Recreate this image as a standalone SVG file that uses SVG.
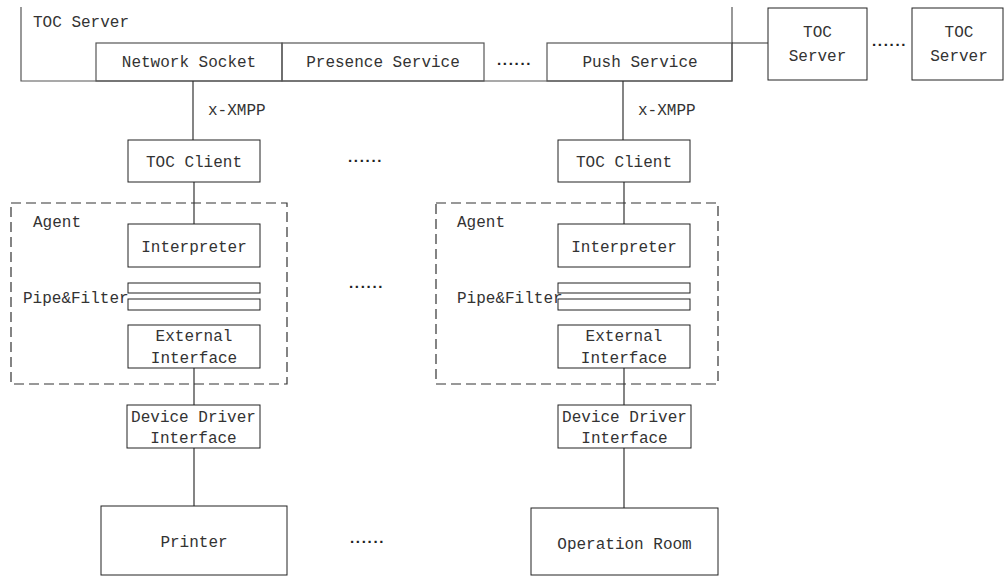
<svg xmlns="http://www.w3.org/2000/svg" width="1005" height="576" viewBox="0 0 1005 576">
<style>
.b{fill:#fff;stroke:#222;stroke-width:1}
.g{fill:none;stroke:#555;stroke-width:1.2}
.d{fill:none;stroke:#333;stroke-width:1.2;stroke-dasharray:10 5}
.t{font-family:"Liberation Mono",monospace;font-size:16px;fill:#333}
.c{text-anchor:middle}
.dots{font-family:"Liberation Sans",sans-serif;font-size:15px;letter-spacing:1.7px;fill:#222;font-weight:bold}
.l{stroke:#333;stroke-width:1.2;fill:none}
</style>
<rect width="1005" height="576" fill="#fff"/>
<g id="toc-server">
<path class="g" d="M21,7 V81 H732 V7"/>
<text class="t" x="33" y="27">TOC Server</text>
</g>
<g id="network-socket">
<rect class="g" x="96" y="43" width="186" height="38"/>
<text class="t c" x="189" y="67">Network Socket</text>
</g>
<g id="presence-service">
<rect class="g" x="282" y="43" width="202" height="38"/>
<text class="t c" x="383" y="67">Presence Service</text>
</g>
<text class="dots" x="497" y="65">......</text>
<g id="push-service">
<rect class="g" x="547" y="43" width="185" height="38"/>
<text class="t c" x="640" y="67">Push Service</text>
</g>
<g id="toc-server-2">
<rect class="b" x="768" y="8" width="99" height="72"/>
<text class="t c" x="817.5" y="37">TOC</text>
<text class="t c" x="817.5" y="61">Server</text>
</g>
<text class="dots" x="872" y="46">......</text>
<g id="toc-server-3">
<rect class="b" x="912" y="8" width="91" height="72"/>
<text class="t c" x="959" y="37">TOC</text>
<text class="t c" x="959" y="61">Server</text>
</g>
<g id="connectors">
<line class="l" x1="732" y1="43" x2="768" y2="43"/>
<line class="l" x1="193" y1="81" x2="193" y2="140"/>
<line class="l" x1="194" y1="182" x2="194" y2="224"/>
<line class="l" x1="194" y1="368" x2="194" y2="405"/>
<line class="l" x1="194" y1="448" x2="194" y2="506"/>
<line class="l" x1="623" y1="81" x2="623" y2="140"/>
<line class="l" x1="624" y1="182" x2="624" y2="224"/>
<line class="l" x1="624" y1="368" x2="624" y2="405"/>
<line class="l" x1="624" y1="448" x2="624" y2="508"/>
</g>
<text class="t" x="208" y="115">x-XMPP</text>
<text class="t" x="638" y="115">x-XMPP</text>
<text class="dots" x="348" y="162">......</text>
<text class="dots" x="349" y="288">......</text>
<text class="dots" x="350" y="543">......</text>
<g id="agent-1">
<rect class="d" x="11" y="203" width="276" height="181"/>
<text class="t" x="33" y="227">Agent</text>
<text class="t" x="23" y="303">Pipe&amp;Filter</text>
</g>
<g id="toc-client-1">
<rect class="b" x="128" y="140" width="132" height="42"/>
<text class="t c" x="194" y="167">TOC Client</text>
</g>
<g id="interpreter-1">
<rect class="b" x="128" y="224" width="132" height="43"/>
<text class="t c" x="194" y="252">Interpreter</text>
</g>
<g id="pipe-1">
<rect class="b" x="128" y="283" width="132" height="10"/>
<rect class="b" x="128" y="299" width="132" height="11"/>
</g>
<g id="external-1">
<rect class="b" x="128" y="325" width="132" height="43"/>
<text class="t c" x="194" y="341">External</text>
<text class="t c" x="194" y="363">Interface</text>
</g>
<g id="driver-1">
<rect class="b" x="127" y="405" width="133" height="43"/>
<text class="t c" x="193.5" y="422">Device Driver</text>
<text class="t c" x="193.5" y="443">Interface</text>
</g>
<g id="printer">
<rect class="b" x="101" y="506" width="186" height="69"/>
<text class="t c" x="194" y="547">Printer</text>
</g>
<g id="agent-2">
<rect class="d" x="436" y="203" width="282" height="181"/>
<text class="t" x="457" y="227">Agent</text>
<text class="t" x="457" y="303">Pipe&amp;Filter</text>
</g>
<g id="toc-client-2">
<rect class="b" x="558" y="140" width="132" height="42"/>
<text class="t c" x="624" y="167">TOC Client</text>
</g>
<g id="interpreter-2">
<rect class="b" x="558" y="224" width="132" height="43"/>
<text class="t c" x="624" y="252">Interpreter</text>
</g>
<g id="pipe-2">
<rect class="b" x="558" y="283" width="132" height="10" fill-opacity="0"/>
<rect class="b" x="558" y="299" width="132" height="11" fill-opacity="0"/>
</g>
<g id="external-2">
<rect class="b" x="558" y="325" width="132" height="43"/>
<text class="t c" x="624" y="341">External</text>
<text class="t c" x="624" y="363">Interface</text>
</g>
<g id="driver-2">
<rect class="b" x="558" y="405" width="133" height="43"/>
<text class="t c" x="624.5" y="422">Device Driver</text>
<text class="t c" x="624.5" y="443">Interface</text>
</g>
<g id="operation-room">
<rect class="b" x="531" y="508" width="187" height="67"/>
<text class="t c" x="624.5" y="549">Operation Room</text>
</g>
</svg>
